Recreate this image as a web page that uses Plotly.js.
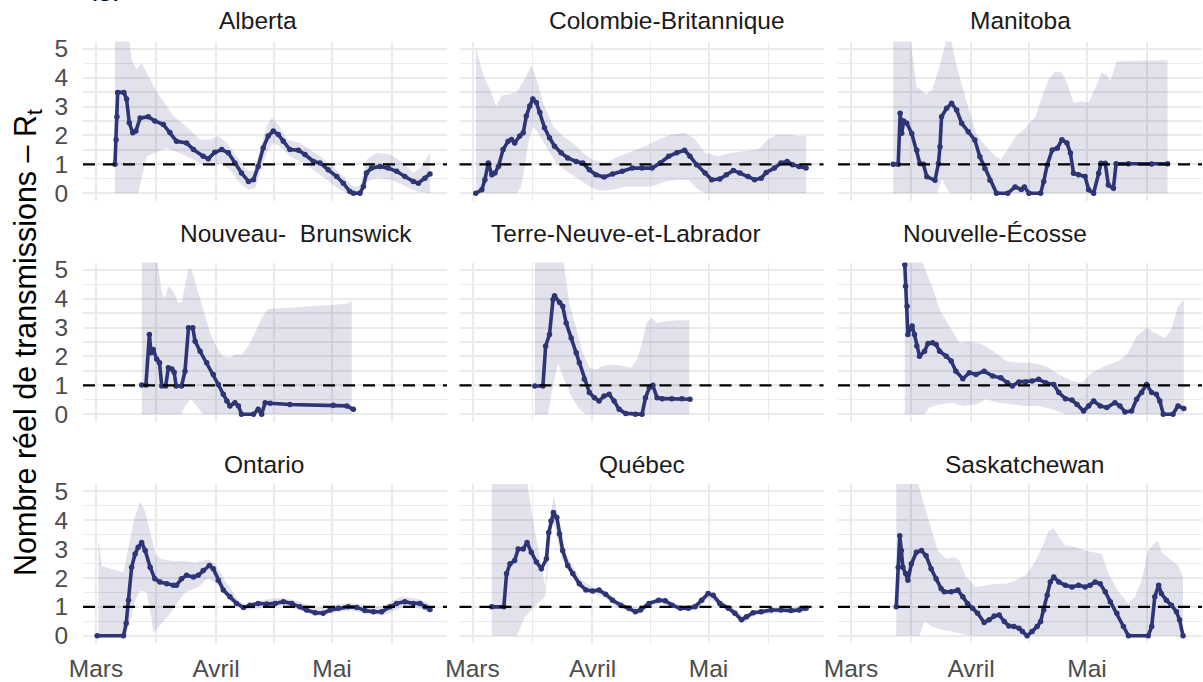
<!DOCTYPE html>
<html><head><meta charset="utf-8">
<script src="https://cdn.plot.ly/plotly-3.0.1.min.js"></script>
<style>html,body{margin:0;padding:0;background:#fff;}#chart{width:1203px;height:682px;}</style>
</head><body><div id="chart"></div>
<script>
// ---------- DATA (x = days since 1 March 2020) ----------
const provinces = ['Alberta','Colombie-Britannique','Manitoba','Nouveau-\u00a0 Brunswick','Terre-Neuve-et-Labrador','Nouvelle-\u00c9cosse','Ontario','Qu\u00e9bec','Saskatchewan'];
const tickDays = [0, 31, 61];
const tickLabels = ['Mars', 'Avril', 'Mai'];
const minorDays = [15.5, 46, 76.5];
const yTicks = [0, 1, 2, 3, 4, 5];
const yMinor = [0.5, 1.5, 2.5, 3.5, 4.5];
const threshold = 1;

// Alberta
const abDays = [4.9,5.2,5.4,5.6,7.2,7.9,8.6,9.5,10.3,11.4,13.5,15.2,17.4,19.1,20.8,23.4,25.2,27.7,29,30.7,32.5,34.2,35.9,37.6,39.4,40.7,41.9,43.2,44.5,45.8,47.1,48.4,50.1,52.3,54,56.2,57.9,60,62.2,63.9,65.6,66.5,68.2,69.1,69.9,71.2,73.4,75.5,77.7,79.8,82,83.3,85,86.3];
const abRt = [1.0,1.85,2.65,3.49,3.49,3.26,2.44,2.09,2.15,2.6,2.65,2.5,2.38,2.1,1.8,1.74,1.51,1.28,1.19,1.42,1.51,1.4,1.05,0.7,0.41,0.47,0.93,1.57,1.98,2.15,2.03,1.8,1.51,1.49,1.34,1.1,1.05,0.81,0.58,0.35,0.06,0,0,0.23,0.7,0.87,0.93,0.87,0.76,0.58,0.41,0.35,0.52,0.67];
const abHiDays = [4.9,8.4,9.2,10.5,11.8,15.7,20,23.4,26.9,29.5,31.6,33.8,36.3,38.9,40.7,42.4,44.1,45.4,47.1,49.3,52.7,55.3,57.9,61.3,64.8,66.5,68.2,69.9,72.5,76,79.4,82,83.7,86.3];
const abHi = [5.5,5.5,4.6,4.3,4.5,3.5,2.67,2.3,1.86,1.86,1.98,1.74,1.28,0.81,0.76,1.5,2.33,2.62,2.38,1.86,1.74,1.51,1.28,0.93,0.47,0.23,0.25,1.16,1.4,1.35,1.05,0.7,0.87,1.4];
const abLoDays = [4.9,10.9,13.1,18.3,23.4,26.9,30.3,32,34.6,37.2,39.4,41.1,42.4,44.1,45.8,47.5,50.1,52.7,56.2,59.6,63,64.8,68.2,69.9,72.5,76,79.4,82.9,86.3];
const abLo = [0,0,1.28,1.57,1.28,1.05,0.93,1.05,0.81,0.35,0.12,0.17,0.7,1.4,1.74,1.63,1.28,1.1,0.81,0.47,0.12,0,0,0.41,0.52,0.47,0.29,0.06,0];

// Colombie-Britannique
const cbDays = [0.85,2.4,3.2,4.1,5,5.8,6.7,7.9,9.2,10.1,10.9,12.2,13.1,13.9,14.8,15.6,16.5,17.4,18.6,19.9,21.2,22.9,24.6,26.8,28.5,30.2,31.9,34,36.2,38.7,41.3,43.8,46.4,48.5,50.7,52.8,54.8,56.2,57.9,60.1,61.8,63.9,65.6,67.4,69.1,71.2,72.9,74.6,75.9,78,79.7,81.3,82.7,84.4,86.2];
const cbRt = [0,0.12,0.47,1.05,0.64,0.7,0.93,1.51,1.8,1.86,1.74,1.98,2.09,2.67,3.02,3.26,3.14,2.79,2.27,1.92,1.63,1.4,1.22,1.1,1.05,0.81,0.64,0.56,0.67,0.76,0.87,0.87,0.87,1.05,1.28,1.4,1.49,1.28,0.99,0.7,0.47,0.49,0.64,0.79,0.7,0.58,0.47,0.52,0.72,0.87,1.05,1.1,0.99,0.93,0.87];
const cbHiDays = [0.85,2.8,4.5,6.1,7.5,9.7,11.4,13.5,15.2,16.5,18.2,20.8,23.3,25.9,28.5,31,34.4,37.9,41.3,44.7,48.1,51.5,54.9,57.5,60.1,63.5,66.9,70.3,73.8,76.3,78.9,81.5,84,86.2];
const cbHi = [5.06,4.07,3.6,3.0,3.37,3.43,3.5,3.95,4.42,3.95,3.14,2.33,1.98,1.74,1.4,1.16,1.05,1.28,1.45,1.63,1.86,2.03,2.09,1.86,1.4,1.28,1.4,1.45,1.51,1.86,2.03,2.03,1.98,1.98];
const cbLoDays = [0.85,11.4,12.6,13.5,14.4,15.6,16.9,19.1,21.6,25,27.6,30.2,32.7,36.2,39.6,43,46.4,49.8,53.2,55.8,58.4,60.1,86.2];
const cbLo = [0,0,0.23,0.93,1.74,2.33,2.09,1.63,1.05,0.7,0.47,0.23,0.09,0.12,0.23,0.23,0.23,0.41,0.47,0.47,0.12,0,0];

// Manitoba
const mbDays = [10.9,12.2,12.7,13.1,13.6,14.4,15.7,17,17.8,18.7,19.6,21.7,22.6,23,23.4,24.7,26,27.3,28.6,30.3,32,33.3,34.6,35.9,37.6,40.5,42.4,44,44.8,46,49,49.8,50.7,52,53.3,54.5,55.8,56.7,57.5,58.8,60.5,61.4,62.7,64,64.6,65.7,66.5,67.8,68.5,71.7,77.7,81.8];
const mbRt = [1.0,1.0,2.77,2.08,2.5,2.42,2.07,1.49,1.03,1.0,0.57,0.45,1.03,1.61,2.65,2.94,3.11,2.88,2.42,2.13,1.84,1.26,0.86,0.45,0,0,0.22,0.13,0.22,0,0,0.41,0.98,1.5,1.56,1.85,1.74,1.39,0.69,0.64,0.58,0.12,0,0.69,1.04,1.04,0.29,0.17,1.02,1.02,1.01,1.02];
const mbHiDays = [10.9,15.2,16.9,19.4,21.1,22.9,24.6,25.9,27.1,29.7,32.3,34.8,37.4,38.7,40.4,42.6,45.1,47.7,49.4,51.1,52.8,54.5,55.8,57.5,59.7,61.4,63.1,64.8,66.1,67,68.7,81.8];
const mbHi = [5.5,5.5,3.7,3.41,3.59,4.4,5.3,5.3,4.51,3.24,2.08,1.62,1.27,1.16,1.5,1.97,2.26,2.66,3.36,3.94,4.22,4.17,3.82,3.13,3.18,3.13,3.65,4.17,4.11,3.88,4.57,4.6];
const mbLoDays = [10.9,22.2,23.5,25,26,81.8];
const mbLo = [0,0,0.5,0.1,0,0];

// Nouveau-Brunswick
const nbDays = [11.8,12.9,13.8,14.2,14.8,15.7,16.4,17,18,18.7,19.6,20.2,20.7,22.1,23,23.9,25,25.6,26.9,28.6,30.3,31.6,32.9,33.8,34.6,35.9,36.8,37.6,40.7,41.9,42.8,43.7,45,50.1,61.3,64.8,66.5];
const nbRt = [1.01,1.01,2.76,2.13,2.24,1.9,1.78,0.98,0.98,1.61,1.57,1.45,0.98,0.98,1.49,2.99,2.99,2.53,2.18,1.78,1.38,1.03,0.69,0.46,0.29,0.4,0.29,0,0,0.17,0,0.4,0.38,0.34,0.31,0.29,0.17];
const nbHiDays = [11.8,15.7,17,17.8,18.7,20,21.3,22.1,23,23.9,24.7,26,27.7,29.5,31.2,32.9,34.6,35.9,37.6,39.4,41.1,42.8,44.5,48.4,52.7,57,61.3,64.8,66.1];
const nbHi = [5.5,5.5,4.2,4.02,4.43,4.25,3.85,3.85,4.43,5.06,5.0,4.43,3.62,2.82,2.3,2.01,1.95,2.07,2.07,2.36,2.82,3.33,3.64,3.68,3.71,3.75,3.79,3.82,3.91];
const nbLoDays = [11.8,22.1,23,24.5,26,27.7,66.1];
const nbLo = [0,0,0.29,0.52,0.29,0,0];

// Terre-Neuve-et-Labrador
const nlDays = [16.1,18.2,18.9,19.9,20.8,21.2,22.5,23.3,24.2,25.5,26.8,27.6,28.9,30.2,31.5,32.7,34,35.3,36.6,37.9,39.6,42.1,43.8,44.7,45.7,46.6,47.7,49,51.5,54.1,56.2];
const nlRt = [0.98,0.98,2.36,2.76,3.97,4.1,3.87,3.74,3.16,2.64,2.13,1.78,1.21,0.75,0.57,0.46,0.63,0.69,0.46,0.17,0.03,0,0,0.57,0.92,1.0,0.57,0.54,0.54,0.54,0.52];
const nlHiDays = [16.1,23.3,25,26.8,28.5,30.2,31.9,33.6,36.2,38.7,40.9,42.6,43.8,45.1,46.4,47.7,49.8,53.2,56];
const nlHi = [5.5,5.5,3.85,2.93,2.13,1.61,1.55,1.67,1.72,1.67,1.61,1.9,2.47,3.22,3.33,3.16,3.22,3.25,3.25];
const nlLoDays = [16.1,19.5,20.8,22.1,23.3,25.5,27.6,29.3,56];
const nlLo = [0,0,0.98,1.78,1.32,0.63,0.17,0,0];

// Nouvelle-Écosse
const nsDays = [13.9,14.1,14.5,14.7,15.2,15.8,16.4,17,17.7,19,19.9,21.1,22,22.9,24.6,25.9,27.1,28.9,30.6,32.3,34.4,36.6,38.7,40.4,41.7,43.4,45.1,46.8,48.5,50.3,52.4,53.7,55.4,57.1,58.4,60.1,61.4,62.7,64.4,66.1,68.2,69.5,70.8,72.5,73.8,75.1,76.4,77.7,78.9,79.8,80.7,83.2,84.5,86];
const nsRt = [5.17,4.43,3.74,2.76,2.94,3.05,2.76,2.36,2.01,2.18,2.45,2.47,2.41,2.18,2.01,1.84,1.49,1.23,1.44,1.38,1.49,1.32,1.26,1.09,0.98,1.12,1.12,1.15,1.21,1.09,1.03,0.75,0.54,0.49,0.34,0.11,0.29,0.46,0.29,0.23,0.4,0.29,0.08,0.11,0.52,0.75,1.03,0.75,0.69,0.46,0,0,0.29,0.2];
const nsHiDays = [13.9,17.7,21.1,22.9,25.4,28,30.6,34,37.4,40,43.4,46.8,50.3,53.7,57.1,59.7,62.2,65.7,69.1,71.7,73.8,76.4,78.5,81.1,82.8,84.5,86];
const nsHi = [5.5,5.5,4.37,3.62,3.05,2.47,2.53,2.41,2.13,1.84,1.78,1.78,1.67,1.38,1.15,1.09,1.44,1.67,1.84,2.13,2.7,2.99,2.82,2.64,2.93,3.74,3.97];
const nsLoDays = [13.9,19,20.3,22.9,26.3,28.9,32.3,34.8,38.3,41.7,45.1,48.5,52,55.4,86];
const nsLo = [0,0,0.23,0.34,0.4,0.29,0.34,0.52,0.4,0.34,0.29,0.29,0.17,0,0];

// Ontario
const onDays = [0.3,7.1,7.8,8.4,9.2,10.1,10.9,11.8,12.7,14,15.2,16.5,18.3,20,20.8,22.1,23.4,25.2,26.4,27.7,29.3,30.3,31.6,32.9,34.6,36.3,38.1,39.8,41.9,44.1,46.3,48.4,50.6,52.7,54.4,56.6,58.7,60.5,62.6,65.2,67.4,69.5,71.7,73.8,76,77.7,79.8,82,83.7,85,86.3];
const onRt = [0,0,0.43,1.23,2.37,2.83,3.06,3.23,2.95,2.37,1.97,1.86,1.8,1.75,1.75,1.97,2.09,2.03,2.09,2.26,2.43,2.32,1.92,1.58,1.35,1.12,0.98,1.06,1.12,1.1,1.12,1.18,1.12,1.0,0.89,0.8,0.78,0.89,0.95,1.0,0.98,0.87,0.83,0.83,1.0,1.12,1.18,1.12,1.12,1.0,0.91];
const onHiDays = [0.6,1.5,4.1,7.1,8.4,9.9,11.4,12.7,14.4,15.3,17,19.6,23,25.6,29,30.8,33.4,36.8,38.5,44.1,48.4,52.7,57,61.3,65.6,69.9,74.2,78.6,82.9,86.3];
const onHi = [3.33,2.42,2.3,2.2,3.05,4.07,4.64,4.3,3.39,2.82,2.65,2.59,2.59,2.53,2.65,2.48,1.9,1.23,1.06,1.26,1.32,1.18,0.95,1.06,1.14,1.03,1.0,1.35,1.29,1.12];
const onLoDays = [0.6,7.8,8.4,10.1,11.4,13.1,14.4,14.8,18.7,23,26.4,29,31.6,34.6,38.1,44.1,48.4,52.7,57,61.3,65.6,69.9,74.2,78.6,82.9,86.3];
const onLo = [0,0,0.3,1.2,1.57,1.5,0.55,0.1,0.7,1.5,1.68,2.0,1.75,1.2,0.88,0.98,1.05,0.88,0.68,0.8,0.88,0.75,0.7,0.95,0.98,0.78];

// Québec
const qcDays = [5,8.1,8.8,9.7,10.9,11.8,13.1,14.1,15.2,16.5,17.8,19.1,19.7,20.3,20.9,21.8,22.5,23.3,24.6,25.9,27.6,29.3,31,32.7,34.4,36.2,38.3,40.4,42.1,43.4,45.6,48.1,49.8,51.6,53.7,55.8,57.5,59.2,60.9,62.2,63.9,66.1,67.8,69.5,70.8,72.5,74.6,77.2,79.7,82.3,84.4,86.2];
const qcRt = [1.0,1.0,2.15,2.49,2.6,3.0,3.0,3.23,2.89,2.55,2.32,2.66,3.57,3.97,4.26,4.09,3.52,2.95,2.43,2.15,1.8,1.58,1.55,1.58,1.44,1.23,1.06,0.95,0.83,0.89,1.12,1.23,1.21,1.06,0.95,0.95,1.0,1.23,1.46,1.4,1.12,0.95,0.78,0.55,0.66,0.8,0.83,0.89,0.89,0.87,0.89,0.95];
const qcHiDays = [5,13.9,16,17.5,18.8,19.5,20.3,21,22,23,25,28,31,34,37,40,43,46,49,52,55,58,61,64,67,70,73,76,80,83,86.2];
const qcHi = [5.5,5.5,3.7,2.6,1.7,3.2,4.3,4.85,4.2,3.2,2.6,1.95,1.68,1.55,1.2,1.05,0.97,1.22,1.33,1.12,1.03,1.15,1.55,1.25,1.02,0.67,0.9,0.94,0.99,0.98,1.03];
const qcLoDays = [5,11.5,13.5,16,18.8,19.5,20.3,21,22,23,25,28,31,34,37,40,43,46,49,52,55,58,61,64,67,70,73,76,80,83,86.2];
const qcLo = [0,0,0.65,1.0,1.35,2.4,3.6,3.9,3.3,2.7,2.2,1.65,1.45,1.35,1.0,0.85,0.78,1.02,1.12,0.93,0.85,0.93,1.3,1.0,0.85,0.45,0.7,0.75,0.8,0.78,0.85];

// Saskatchewan
const skDays = [11.7,12.2,12.6,13,13.4,14.1,14.7,15.6,16.9,18.2,19.4,20.7,22,23.3,24.1,25.9,27.6,28.9,30.1,31.4,32.7,34.4,35.7,37,38.3,39.6,40.8,42.1,43.4,44.3,45.5,46.8,48.1,49,49.8,50.7,51.5,52.4,53.7,55.4,57.1,58.8,60.5,61.8,63.1,64.4,65.7,67,68.7,70.4,71.7,76.8,77.7,78.5,79.5,80.2,81.5,82.8,84.1,84.9,85.8];
const skRt = [1.0,2.37,3.46,2.95,2.37,2.15,1.92,2.49,2.89,2.95,2.77,2.32,1.97,1.63,1.52,1.52,1.58,1.35,1.12,0.95,0.78,0.46,0.55,0.68,0.72,0.49,0.34,0.32,0.26,0.15,0,0.15,0.32,0.49,0.89,1.4,1.86,2.03,1.86,1.75,1.69,1.75,1.69,1.75,1.86,1.8,1.52,1.18,0.78,0.32,0,0,0.32,1.35,1.75,1.46,1.23,1.06,0.83,0.55,0];
const skHiDays = [11.7,16.9,18.6,20.3,22.4,24.6,26.7,28,29.7,32.3,34.8,37.4,40,42.6,45.1,47.3,49.4,51.1,52.4,53.7,55.4,58,60.5,63.1,64.8,66.5,69.1,71.7,73.4,75.1,76.8,78.1,79.4,80.2,82.8,84.5,85.8];
const skHi = [5.5,5.5,4.66,3.86,2.95,2.66,2.72,2.6,2.03,1.69,1.75,1.8,1.8,1.92,2.09,2.49,3.06,3.63,3.72,3.4,3.12,3.06,2.95,2.89,2.83,2.15,1.52,1.12,1.35,1.92,2.95,3.17,3.29,2.89,2.6,2.43,2.03];
const skLoDays = [11.7,17.7,19,20.9,23.7,26.3,29.7,31.4,85.8];
const skLo = [0,0,0.49,0.32,0.2,0.15,0.03,0,0];

// ---------- assembly ----------
const series = [
  [abDays,abRt,abHiDays,abHi,abLoDays,abLo],
  [cbDays,cbRt,cbHiDays,cbHi,cbLoDays,cbLo],
  [mbDays,mbRt,mbHiDays,mbHi,mbLoDays,mbLo],
  [nbDays,nbRt,nbHiDays,nbHi,nbLoDays,nbLo],
  [nlDays,nlRt,nlHiDays,nlHi,nlLoDays,nlLo],
  [nsDays,nsRt,nsHiDays,nsHi,nsLoDays,nsLo],
  [onDays,onRt,onHiDays,onHi,onLoDays,onLo],
  [qcDays,qcRt,qcHiDays,qcHi,qcLoDays,qcLo],
  [skDays,skRt,skHiDays,skHi,skLoDays,skLo]
];

// ---------- layout geometry (pixels) ----------
const W = 1203, H = 682;
const colLeft = [83, 459.5, 838], colW = 364;
const rowTop = [41.5, 262.5, 484], rowH = 159;
const stripX = [[258,667,1020],[296,626,995],[264,642,1024]];
const stripBaseline = [29.3, 242, 473];
const FONT = 'Liberation Sans, Arial, Helvetica, sans-serif';
const navy = '#2d3575';
const ribbon = 'rgba(45,53,117,0.14)';
const grid = '#ebebeb';

const data = [];
const layout = {
  width: W, height: H,
  margin: {l:0, r:0, t:0, b:0},
  paper_bgcolor: '#fff', plot_bgcolor: 'rgba(0,0,0,0)',
  showlegend: false,
  font: {family: FONT},
  shapes: [], annotations: []
};

series.forEach((s, i) => {
  const r = Math.floor(i / 3), c = i % 3;
  const sfx = i === 0 ? '' : String(i + 1);
  const xa = 'x' + sfx, ya = 'y' + sfx;
  const [d, rt, hd, hi, ld, lo] = s;
  // ribbon polygon
  data.push({
    type: 'scatter', mode: 'lines', xaxis: xa, yaxis: ya,
    x: hd.concat(ld.slice().reverse()),
    y: hi.concat(lo.slice().reverse()),
    fill: 'toself', fillcolor: ribbon, line: {width: 0}, hoverinfo: 'skip'
  });
  data.push({
    type: 'scatter', mode: 'lines+markers', xaxis: xa, yaxis: ya,
    x: d, y: rt,
    line: {color: navy, width: 3.6},
    marker: {color: navy, size: 5.5}
  });
  const x0 = colLeft[c] / W, x1 = (colLeft[c] + colW) / W;
  const y0 = 1 - (rowTop[r] + rowH) / H, y1 = 1 - rowTop[r] / H;
  layout['xaxis' + sfx] = {
    domain: [x0, x1], anchor: ya, range: [-3.36, 90.7],
    tickmode: 'array', tickvals: tickDays, ticktext: tickLabels,
    showticklabels: r === 2, ticks: r === 2 ? 'outside' : '', ticklen: 4, tickcolor: 'rgba(0,0,0,0)',
    tickfont: {size: 24.5, color: '#4d4d4d', family: FONT},
    showgrid: true, gridcolor: grid, gridwidth: 2, zeroline: false, showline: false,
    minor: {tickmode: 'array', tickvals: minorDays, showgrid: true, gridcolor: grid, gridwidth: 1.2, ticks: ''},
    fixedrange: true
  };
  layout['yaxis' + sfx] = {
    domain: [y0, y1], anchor: xa, range: [-0.25, 5.25],
    tickmode: 'array', tickvals: yTicks, ticktext: yTicks.map(String),
    showticklabels: c === 0, ticks: c === 0 ? 'outside' : '', ticklen: 9, tickcolor: 'rgba(0,0,0,0)',
    tickfont: {size: 24.5, color: '#4d4d4d', family: FONT},
    showgrid: true, gridcolor: grid, gridwidth: 2, zeroline: false, showline: false,
    minor: {tickmode: 'array', tickvals: yMinor, showgrid: true, gridcolor: grid, gridwidth: 1.2, ticks: ''},
    fixedrange: true
  };
  layout.shapes.push({
    type: 'line', xref: xa + ' domain', yref: ya, x0: 0, x1: 1, y0: threshold, y1: threshold,
    line: {color: '#000', width: 2.2, dash: '12px,8px'}, layer: 'above'
  });
  layout.annotations.push({
    text: provinces[i], xref: 'paper', yref: 'paper',
    x: stripX[r][c] / W, y: 1 - (stripBaseline[r] - 8.5) / H,
    xanchor: 'center', yanchor: 'middle', showarrow: false,
    font: {size: 24.5, color: '#1a1a1a', family: FONT}
  });
});

layout.annotations.push({
  text: 'Nombre r\u00e9el de transmissions \u2013 R<sub>t</sub>', xref: 'paper', yref: 'paper',
  x: 27 / W, y: 1 - 343 / H, xanchor: 'center', yanchor: 'middle', textangle: -90,
  showarrow: false, font: {size: 30.5, color: '#000', family: FONT}
});
layout.annotations.push({
  text: '(g)', xref: 'paper', yref: 'paper', x: 105 / W, y: 1 - 2.5 / H,
  xanchor: 'center', yanchor: 'bottom', showarrow: false,
  font: {size: 30, color: '#000', family: FONT}
});

Plotly.newPlot('chart', data, layout, {displayModeBar: false, staticPlot: true});
</script></body></html>
